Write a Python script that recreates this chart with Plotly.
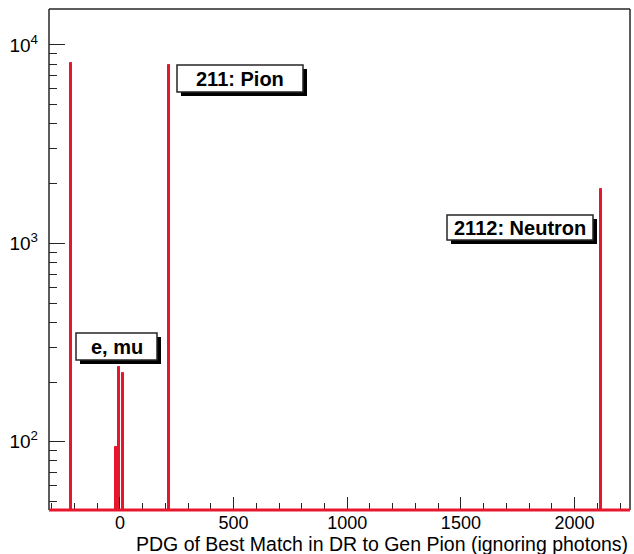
import plotly.graph_objects as go

# Histogram of PDG id of the best DR match to the generated pion (bin width 10)
bin_centers = [-215, -15, -5, 15, 215, 2115]
counts = [8150, 94, 239, 221, 7930, 1884]
bin_width = 10

# y-axis (log) ticks
y_major_vals = [100, 1000, 10000]
y_major_text = ["10<sup>2</sup>", "10<sup>3</sup>", "10<sup>4</sup>"]
y_minor_vals = [50, 60, 70, 80, 90,
                200, 300, 400, 500, 600, 700, 800, 900,
                2000, 3000, 4000, 5000, 6000, 7000, 8000, 9000]

x_title = "PDG of Best Match in DR to Gen Pion (ignoring photons)"

RED = "#e8162c"
FRAME = "#262626"
FONT = "Liberation Sans, Arial, Helvetica, sans-serif"

W, H = 634, 554
M_L, M_R, M_T, M_B = 49, 4, 9, 44
PLOT_W, PLOT_H = W - M_L - M_R, H - M_T - M_B

fig = go.Figure()
fig.add_trace(go.Bar(
    x=bin_centers, y=counts, width=bin_width,
    marker=dict(color=RED, line=dict(color=RED, width=1)),
    showlegend=False, hoverinfo="x+y",
))

fig.update_layout(
    width=W, height=H,
    margin=dict(l=M_L, r=M_R, t=M_T, b=M_B),
    paper_bgcolor="white", plot_bgcolor="white",
    font=dict(family=FONT, size=19, color="black"),
    bargap=0,
)

fig.update_xaxes(
    range=[-312, 2244], showgrid=False, zeroline=False,
    tick0=0, dtick=500, ticks="inside", ticklen=13, tickwidth=1, tickcolor=FRAME,
    minor=dict(dtick=100, tick0=0, ticks="inside", ticklen=7, tickcolor=FRAME, showgrid=False),
    showline=False, tickfont=dict(size=18, family=FONT),
    ticklabelstandoff=0,
)
fig.update_yaxes(
    type="log", range=[1.656, 4.181], showgrid=False, zeroline=False,
    tickmode="array", tickvals=y_major_vals, ticktext=y_major_text,
    ticks="inside", ticklen=16, tickwidth=1, tickcolor=FRAME,
    minor=dict(tickmode="array", tickvals=y_minor_vals, ticks="inside",
               ticklen=8, tickcolor=FRAME, showgrid=False),
    showline=False, tickfont=dict(size=19, family=FONT),
    ticklabelstandoff=10,
)

# frame: black on left, top, right; histogram baseline in red along the bottom
frame_line = dict(color=FRAME, width=1.5)
fig.add_shape(type="line", xref="paper", yref="paper", x0=0, x1=0, y0=0, y1=1, line=frame_line)
fig.add_shape(type="line", xref="paper", yref="paper", x0=0, x1=1, y0=1, y1=1, line=frame_line)
fig.add_shape(type="line", xref="paper", yref="paper", x0=1, x1=1, y0=0, y1=1, line=frame_line)
fig.add_shape(type="line", xref="paper", yref="paper", x0=0, x1=1, y0=0, y1=0,
              line=dict(color=RED, width=3))


def px_to_paper(px, py):
    return (px - M_L) / PLOT_W, (H - M_B - py) / PLOT_H


def label_box(text, left, top, right, bottom, shadow=4):
    """Bordered white box with a black drop shadow; corners given in page pixels."""
    x0, y0 = px_to_paper(left, bottom)
    x1, y1 = px_to_paper(right, top)
    sx, sy = shadow / PLOT_W, shadow / PLOT_H
    fig.add_shape(type="rect", xref="paper", yref="paper",
                  x0=x0 + sx, x1=x1 + sx, y0=y0 - sy, y1=y1 - sy,
                  fillcolor="black", line=dict(width=0))
    fig.add_shape(type="rect", xref="paper", yref="paper",
                  x0=x0, x1=x1, y0=y0, y1=y1,
                  fillcolor="white", line=dict(color=FRAME, width=1.5))
    fig.add_annotation(text=f"<b>{text}</b>", xref="paper", yref="paper",
                       x=(x0 + x1) / 2, y=(y0 + y1) / 2,
                       xanchor="center", yanchor="middle", showarrow=False,
                       font=dict(family=FONT, size=20, color="black"))


label_box("211: Pion", 177, 65, 303, 92)
label_box("2112: Neutron", 447, 215, 593, 240)
label_box("e, mu", 76, 333, 157, 360)

fig.add_annotation(text=x_title, xref="paper", yref="paper", x=1.0, y=px_to_paper(0, 543.5)[1],
                   xanchor="right", yanchor="middle", showarrow=False,
                   font=dict(family=FONT, size=19.5, color="black"))

fig.write_html("out.html")
